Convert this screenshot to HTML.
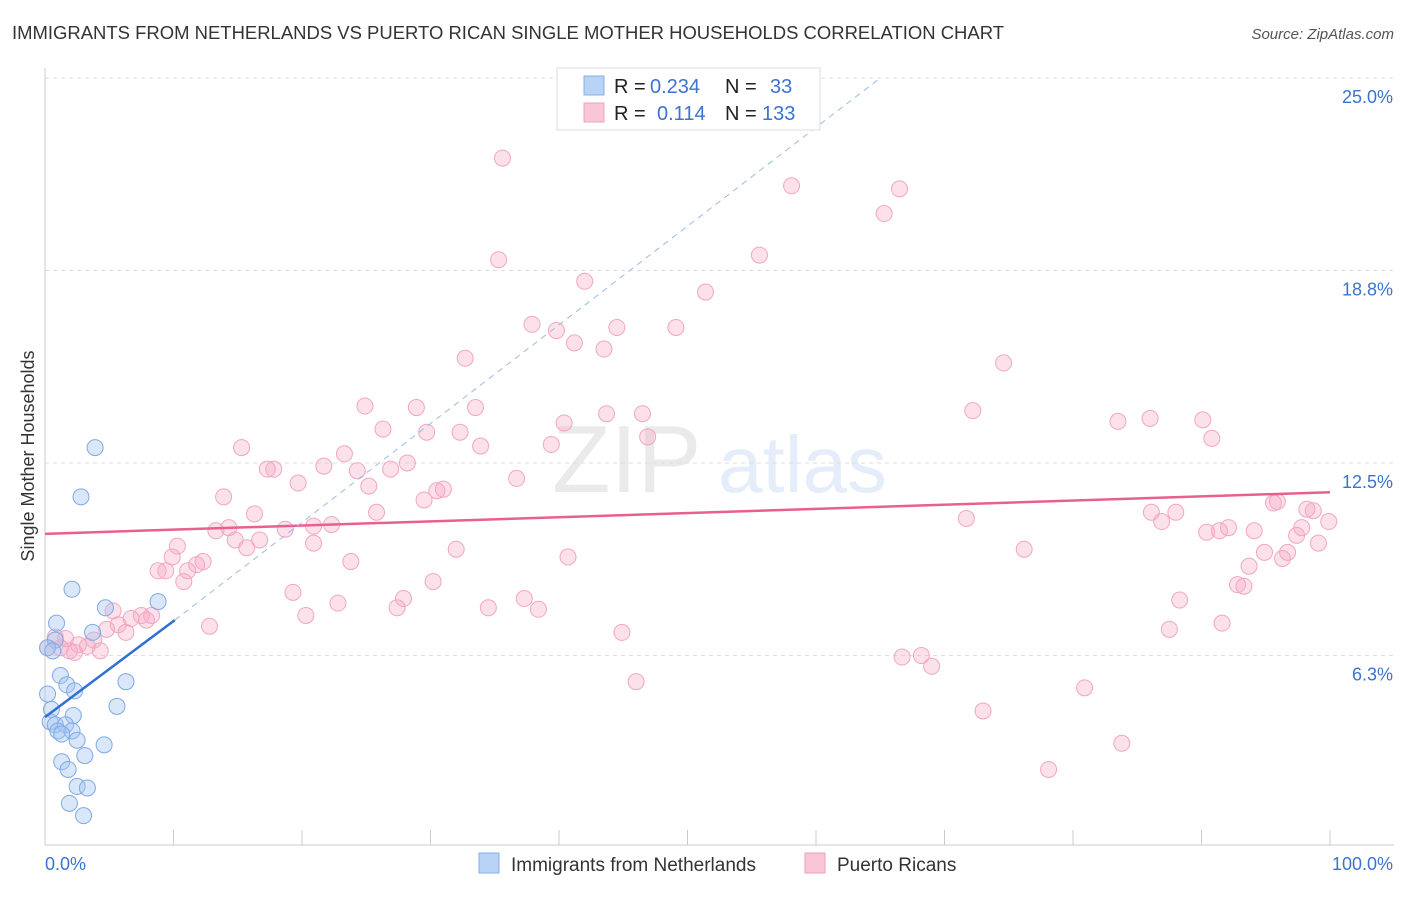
<!DOCTYPE html>
<html><head><meta charset="utf-8"><style>
body{margin:0;background:#fff;font-family:"Liberation Sans",sans-serif;}
svg text{font-family:"Liberation Sans",sans-serif;}
</style></head><body>
<svg id="chart" width="1406" height="892" viewBox="0 0 1406 892" xmlns="http://www.w3.org/2000/svg">
<text x="12" y="39" font-size="18" fill="#333" textLength="992" lengthAdjust="spacingAndGlyphs">IMMIGRANTS FROM NETHERLANDS VS PUERTO RICAN SINGLE MOTHER HOUSEHOLDS CORRELATION CHART</text>
<text x="1394" y="39" font-size="15" fill="#555" font-style="italic" text-anchor="end">Source: ZipAtlas.com</text>
<g opacity="0.13">
<text x="552" y="492" font-size="96" font-family="Liberation Serif,serif" fill="#666">ZIP</text>
<text x="718" y="492" font-size="80" fill="#3b7dd8">atlas</text>
</g>
<g id="grid"></g>
<g id="axes"></g>
<g id="marks"></g>
<text transform="translate(34,456) rotate(-90)" font-size="18" fill="#333" text-anchor="middle">Single Mother Households</text>
<g>
<rect x="557" y="68" width="263" height="62" fill="#fff" stroke="#ddd"/>
<rect x="584" y="76" width="20" height="19" fill="#b8d3f5" stroke="#85b0ea"/>
<rect x="584" y="103" width="20" height="19" fill="#f9c6d6" stroke="#f0a0bb"/>
<text x="614" y="93" font-size="20" fill="#222">R =</text>
<text x="650" y="93" font-size="20" fill="#3a74d0">0.234</text>
<text x="725" y="93" font-size="20" fill="#222">N =</text>
<text x="770" y="93" font-size="20" fill="#3a74d0">33</text>
<text x="614" y="120" font-size="20" fill="#222">R =</text>
<text x="657" y="120" font-size="20" fill="#3a74d0">0.114</text>
<text x="725" y="120" font-size="20" fill="#222">N =</text>
<text x="762" y="120" font-size="20" fill="#3a74d0">133</text>
</g>
<g>
<rect x="479" y="853" width="20" height="20" fill="#b8d3f5" stroke="#85b0ea"/>
<text x="511" y="871" font-size="19" fill="#333">Immigrants from Netherlands</text>
<rect x="805" y="853" width="20" height="20" fill="#f9c6d6" stroke="#f0a0bb"/>
<text x="837" y="871" font-size="19" fill="#333">Puerto Ricans</text>
</g>
</svg>
<script>
const yTicks=[6.25,12.5,18.75,25];
const yTickLabels=["6.3%","12.5%","18.8%","25.0%"];
const xTicks=[0,10,20,30,40,50,60,70,80,90,100];
const blueX=[0.8,0.9,3.9,2.8,2.1,4.7,8.8,3.7,1.2,1.7,2.3,0.2,6.3,5.6,0.5,2.2,0.4,0.8,1.6,1.0,2.1,1.3,2.5,4.6,3.1,1.3,1.8,2.5,3.3,1.9,3.0,0.2,0.6];
const blueY=[6.75,7.3,13.0,11.4,8.4,7.8,8.0,7.0,5.6,5.3,5.1,5.0,5.4,4.6,4.5,4.3,4.1,4.0,4.0,3.8,3.8,3.7,3.5,3.35,3.0,2.8,2.55,2.0,1.95,1.45,1.05,6.5,6.4];
const pinkX=[35.6,58.1,66.5,65.3,35.3,55.6,42.0,51.4,37.9,39.8,44.5,49.1,41.2,43.5,32.7,74.6,24.9,28.9,33.5,43.7,46.5,72.2,83.5,86.0,90.1,40.4,26.3,29.7,32.3,46.9,90.8,15.3,39.4,33.9,23.3,28.2,17.3,17.8,21.7,24.3,26.9,36.7,19.7,25.2,30.5,31.0,13.9,29.5,95.6,95.9,16.3,25.8,71.7,86.1,88.0,98.2,98.7,86.9,99.9,13.3,14.3,18.7,20.9,22.3,16.7,14.8,20.9,90.4,91.4,92.1,94.1,97.8,97.4,10.3,15.7,32.0,76.2,99.1,94.9,96.7,9.9,12.3,11.8,23.8,40.7,96.3,93.7,8.8,9.4,11.1,10.8,30.2,92.8,93.3,19.3,27.9,37.3,22.8,88.3,27.4,34.5,38.4,5.3,20.3,7.5,8.3,6.7,7.9,5.7,12.8,91.6,4.8,6.3,87.5,44.9,0.8,1.6,3.8,2.6,3.3,1.2,1.9,4.3,2.3,66.7,68.2,69.0,46.0,80.9,73.0,83.8,78.1,0.2];
const pinkY=[22.4,21.5,21.4,20.6,19.1,19.25,18.4,18.05,17.0,16.8,16.9,16.9,16.4,16.2,15.9,15.75,14.35,14.3,14.3,14.1,14.1,14.2,13.85,13.95,13.9,13.8,13.6,13.5,13.5,13.35,13.3,13.0,13.1,13.05,12.8,12.5,12.3,12.3,12.4,12.25,12.3,12.0,11.85,11.75,11.6,11.65,11.4,11.3,11.2,11.25,10.85,10.9,10.7,10.9,10.9,11.0,10.95,10.6,10.6,10.3,10.4,10.35,10.45,10.5,10.0,10.0,9.9,10.25,10.3,10.4,10.3,10.4,10.15,9.8,9.75,9.7,9.7,9.9,9.6,9.6,9.45,9.3,9.2,9.3,9.45,9.4,9.15,9.0,9.0,9.0,8.65,8.65,8.55,8.5,8.3,8.1,8.1,7.95,8.05,7.8,7.8,7.75,7.7,7.55,7.55,7.55,7.45,7.4,7.25,7.2,7.3,7.1,7.0,7.1,7.0,6.85,6.8,6.75,6.6,6.55,6.5,6.4,6.4,6.35,6.2,6.25,5.9,5.4,5.2,4.45,3.4,2.55,6.5];
const blueTrend=[[0,4.25],[10.1,7.4]];
const blueDash=[[10.1,7.4],[65,25.0]];
const pinkTrend=[[0,10.2],[100,11.55]];
const NS="http://www.w3.org/2000/svg";
const X=v=>45+v*12.85, Y=v=>848-v*30.8;
function mk(tag,attrs,parent){const e=document.createElementNS(NS,tag);for(const k in attrs)e.setAttribute(k,attrs[k]);parent.appendChild(e);return e;}
const grid=document.getElementById('grid'),axes=document.getElementById('axes'),marks=document.getElementById('marks');
yTicks.forEach((t,i)=>{
 const l=mk('line',{x1:45,x2:1394,y1:Y(t),y2:Y(t),stroke:'#ddd','stroke-dasharray':'4,4'},grid);
 
 
 const tx=mk('text',{x:1393,y:Y(t)+25,'font-size':18,fill:'#3a74d0','text-anchor':'end'},axes);
 tx.textContent=yTickLabels[i];
 
 
});
const ya=mk('line',{x1:45,x2:45,y1:68,y2:845,stroke:'#ccc'},axes);


const xa=mk('line',{x1:45,x2:1394,y1:845,y2:845,stroke:'#ccc'},axes);


xTicks.forEach(t=>{
 const l=mk('line',{x1:X(t),x2:X(t),y1:830,y2:845,stroke:'#ccc'},axes);
 
 
});
const xl0=mk('text',{x:45,y:870,'font-size':18,fill:'#3a74d0'},axes);xl0.textContent='0.0%';


const xl1=mk('text',{x:1393,y:870,'font-size':18,fill:'#3a74d0','text-anchor':'end'},axes);xl1.textContent='100.0%';


pinkX.forEach((v,i)=>{
 const c=mk('circle',{cx:X(v),cy:Y(pinkY[i]),r:8,fill:'rgba(246,170,197,0.35)',stroke:'#f2a7c0','stroke-width':1},marks);
 
 
});
blueX.forEach((v,i)=>{
 const c=mk('circle',{cx:X(v),cy:Y(blueY[i]),r:8,fill:'rgba(160,196,240,0.4)',stroke:'#7eaae6','stroke-width':1},marks);
 
 
});
const pt=mk('line',{x1:X(pinkTrend[0][0]),y1:Y(pinkTrend[0][1]),x2:X(pinkTrend[1][0]),y2:Y(pinkTrend[1][1]),stroke:'#e8608e','stroke-width':2.5},marks);


const bd=mk('line',{x1:X(blueDash[0][0]),y1:Y(blueDash[0][1]),x2:X(blueDash[1][0]),y2:Y(blueDash[1][1]),stroke:'#9bbbe6','stroke-width':1,'stroke-dasharray':'6,5'},marks);


const bt=mk('line',{x1:X(blueTrend[0][0]),y1:Y(blueTrend[0][1]),x2:X(blueTrend[1][0]),y2:Y(blueTrend[1][1]),stroke:'#2f6fd6','stroke-width':2.5},marks);


</script>
</body></html>
